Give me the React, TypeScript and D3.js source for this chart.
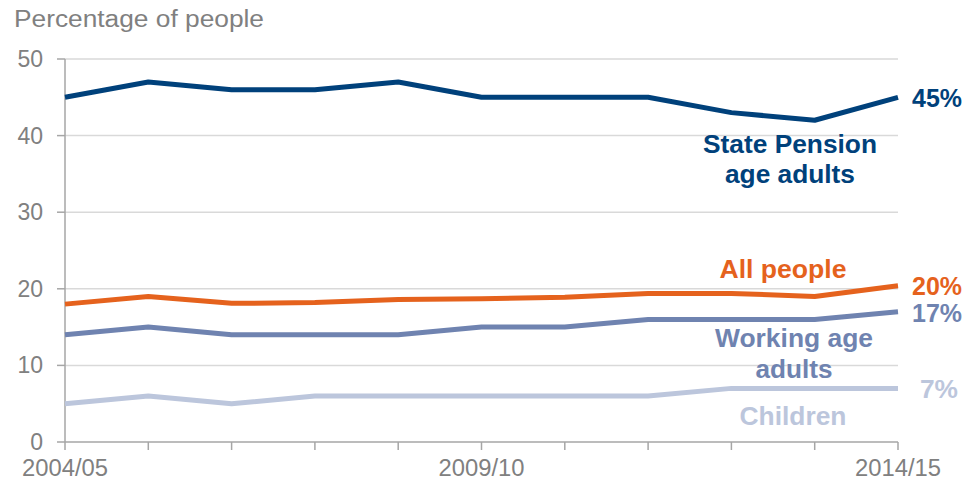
import React from "react";
import * as d3 from "d3";

const years = ["2004/05","2005/06","2006/07","2007/08","2008/09","2009/10","2010/11","2011/12","2012/13","2013/14","2014/15"];
const xTickLabels = ["2004/05", "2009/10", "2014/15"];
const yTicks = [0, 10, 20, 30, 40, 50];
const statePension = [45, 47, 46, 46, 47, 45, 45, 45, 43, 42, 45];
const allPeople = [18, 19, 18.1, 18.2, 18.6, 18.7, 18.9, 19.4, 19.4, 19.0, 20.4];
const workingAge = [14, 15, 14, 14, 14, 15, 15, 16, 16, 16, 17];
const children = [5, 6, 5, 6, 6, 6, 6, 6, 7, 7, 7];

const seriesList = [
  { name: "children", values: children, color: "#bcc6dc", end: "7%", label: ["Children"] },
  { name: "working", values: workingAge, color: "#6f83b0", end: "17%", label: ["Working age", "adults"] },
  { name: "all", values: allPeople, color: "#e5621d", end: "20%", label: ["All people"] },
  { name: "state", values: statePension, color: "#00417b", end: "45%", label: ["State Pension", "age adults"] },
];

const W = 966, H = 483;
const x = d3.scaleLinear().domain([0, years.length - 1]).range([65, 898]);
const y = d3.scaleLinear().domain([0, 50]).range([442, 59]);

const labelPos: Record<string, { endX: number; endY: number; endW: number; lx: number; ly: number[]; lw: number[] }> = {
  state: { endX: 912, endY: 107, endW: 50, lx: 790, ly: [153, 183], lw: [174, 130] },
  all: { endX: 912, endY: 295, endW: 50, lx: 783, ly: [278], lw: [127] },
  working: { endX: 912, endY: 322, endW: 50, lx: 794, ly: [347, 378], lw: [158, 77] },
  children: { endX: 920, endY: 398, endW: 38, lx: 793, ly: [425], lw: [107] },
};

export default function App() {
  const line = d3.line<number>().x((_, i) => x(i)).y((d) => y(d)).curve(d3.curveLinear);
  const font = "Liberation Sans, Arial, Helvetica, sans-serif";
  return (
    <svg width={W} height={H} style={{ position: "absolute", left: 0, top: 0, background: "#fff" }} fontFamily={font}>
      <text x={14} y={27} fontSize={23} fill="#808080" textLength={250} lengthAdjust="spacingAndGlyphs">Percentage of people</text>
      {yTicks.map((t) => (
        <g key={t}>
          {t > 0 && <line x1={x(0)} x2={x(10)} y1={y(t)} y2={y(t)} stroke="#d9d9d9" strokeWidth={1.5} />}
          <line x1={57} x2={x(0)} y1={y(t)} y2={y(t)} stroke="#a6a6a6" strokeWidth={1.5} />
          <text x={43} y={y(t) + 8} fontSize={23} fill="#808080" textAnchor="end">{t}</text>
        </g>
      ))}
      <line x1={x(0)} x2={x(0)} y1={y(50)} y2={y(0)} stroke="#a6a6a6" strokeWidth={1.5} />
      <line x1={x(0)} x2={x(10)} y1={y(0)} y2={y(0)} stroke="#a6a6a6" strokeWidth={1.5} />
      {years.map((yr, i) => (
        <line key={yr} x1={x(i)} x2={x(i)} y1={y(0)} y2={y(0) + 8} stroke="#a6a6a6" strokeWidth={1.5} />
      ))}
      {xTickLabels.map((lbl) => (
        <text key={lbl} x={x(years.indexOf(lbl))} y={476} fontSize={23} fill="#808080" textAnchor="middle" textLength={86} lengthAdjust="spacingAndGlyphs">{lbl}</text>
      ))}
      {seriesList.map((s) => {
        const p = labelPos[s.name];
        return (
          <g key={s.name}>
            <path d={line(s.values) || ""} fill="none" stroke={s.color} strokeWidth={5} strokeLinejoin="round" strokeLinecap="butt" />
            <text x={p.endX} y={p.endY} fontSize={25} fontWeight="bold" fill={s.color} textLength={p.endW} lengthAdjust="spacingAndGlyphs">{s.end}</text>
            {s.label.map((l, k) => (
              <text key={k} x={p.lx} y={p.ly[k]} fontSize={25} fontWeight="bold" fill={s.color} textAnchor="middle" textLength={p.lw[k]} lengthAdjust="spacingAndGlyphs">{l}</text>
            ))}
          </g>
        );
      })}
    </svg>
  );
}
